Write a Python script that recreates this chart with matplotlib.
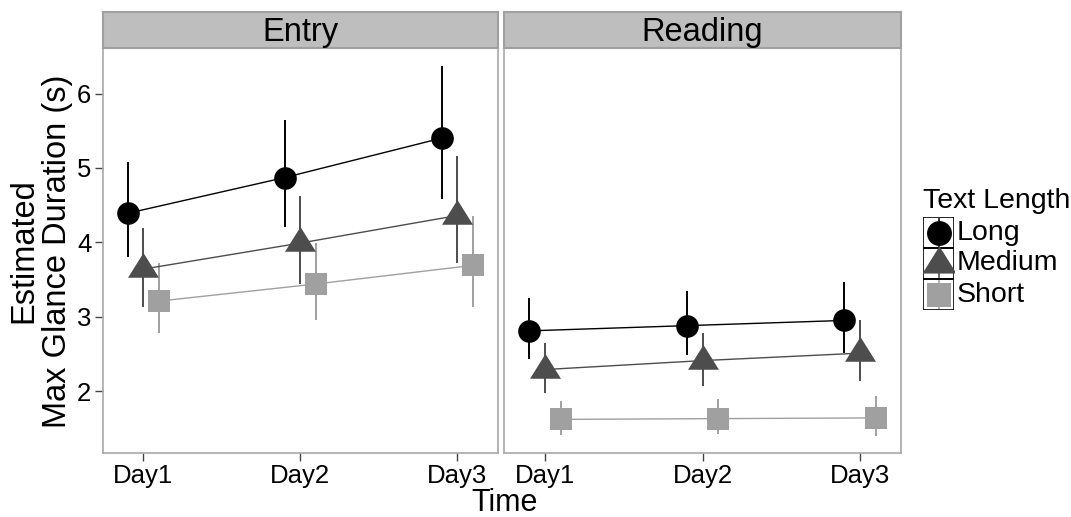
import numpy as np
import matplotlib
matplotlib.use("Agg")
from matplotlib import pyplot as plt
from matplotlib.patches import Rectangle

plt.rcParams['font.family'] = ['Liberation Sans', 'DejaVu Sans']

days = ['Day1', 'Day2', 'Day3']
panels = ['Entry', 'Reading']
lengths = ['Long', 'Medium', 'Short']

# estimated means and interval ends
entry_mean = {'Long': [4.39, 4.87, 5.40], 'Medium': [3.64, 3.99, 4.36], 'Short': [3.21, 3.44, 3.69]}
entry_low = {'Long': [3.80, 4.20, 4.58], 'Medium': [3.13, 3.44, 3.72], 'Short': [2.78, 2.96, 3.13]}
entry_high = {'Long': [5.08, 5.64, 6.37], 'Medium': [4.19, 4.62, 5.16], 'Short': [3.72, 3.99, 4.36]}

reading_mean = {'Long': [2.81, 2.88, 2.95], 'Medium': [2.29, 2.41, 2.51], 'Short': [1.62, 1.63, 1.64]}
reading_low = {'Long': [2.43, 2.49, 2.51], 'Medium': [1.98, 2.07, 2.14], 'Short': [1.41, 1.42, 1.40]}
reading_high = {'Long': [3.25, 3.34, 3.47], 'Medium': [2.64, 2.78, 2.96], 'Short': [1.87, 1.89, 1.93]}

y_ticks = [2, 3, 4, 5, 6]

colors = {'Long': '#000000', 'Medium': '#4d4d4d', 'Short': '#a0a0a0'}
dodge = {'Long': -0.1, 'Medium': 0.0, 'Short': 0.1}

# triangle with its centroid on the data point
tri = [(-1.0, -0.533), (1.0, -0.533), (0.0, 1.067), (-1.0, -0.533)]
markers = {'Long': ('o', 16.3), 'Medium': (tri, 23.8), 'Short': ('s', 16.3)}

W, H = 1071, 517
fig = plt.figure(figsize=(W / 100, H / 100), dpi=100)

def fx(px):
    return px / W

def fy(py):
    return 1 - py / H

panel_left = [102.5, 504.3]
panel_right = [498.0, 900.7]
top, bottom = 48.3, 453.3
strip_top = 11.7

data = {'Entry': (entry_mean, entry_low, entry_high),
        'Reading': (reading_mean, reading_low, reading_high)}

border = '#a8a8a8'
x = np.arange(1, len(days) + 1)

for i, name in enumerate(panels):
    ax = fig.add_axes([fx(panel_left[i]), fy(bottom), fx(panel_right[i] - panel_left[i]), (bottom - top) / H])
    mean, low, high = data[name]
    for lab in lengths:
        xs = x + dodge[lab]
        ax.vlines(xs, low[lab], high[lab], color=colors[lab], lw=1.4, zorder=2)
        ax.plot(xs, mean[lab], color=colors[lab], lw=1.0, zorder=3)
        m, ms = markers[lab]
        ax.plot(xs, mean[lab], linestyle='none', marker=m, markersize=ms,
                color=colors[lab], markeredgewidth=0, zorder=4)
    ax.set_xlim(0.74, 3.26)
    ax.set_ylim(1.164, 6.608)
    ax.set_xticks(x)
    ax.set_xticklabels(days, fontsize=18.5)
    ax.set_yticks(y_ticks)
    if i == 0:
        ax.set_yticklabels([str(t) for t in y_ticks], fontsize=18.5)
    else:
        ax.tick_params(axis='y', left=False, labelleft=False)
    ax.tick_params(direction='out', length=6, width=1, color='#444444', pad=2)
    for s in ax.spines.values():
        s.set_color(border)
        s.set_linewidth(1.2)

    # facet strip
    sax = fig.add_axes([fx(panel_left[i]), fy(top), fx(panel_right[i] - panel_left[i]), (top - strip_top) / H])
    sax.set_xticks([])
    sax.set_yticks([])
    sax.set_facecolor('#bebebe')
    for s in sax.spines.values():
        s.set_color('#a0a0a0')
        s.set_linewidth(1.5)
    sax.text(0.5, 0.42, name, ha='center', va='center', fontsize=23.5, transform=sax.transAxes)

fig.text(fx(505), fy(503), 'Time', ha='center', va='center', fontsize=22)
fig.text(fx(41), fy(251), 'Estimated\nMax Glance Duration (s)', ha='center', va='center',
         rotation=90, fontsize=23.5, linespacing=1.1)

# legend drawn by hand so each key gets its own box
lax = fig.add_axes([fx(923), fy(310), fx(954 - 923), (310 - 217) / H])
lax.set_xlim(0, 1)
lax.set_ylim(0, 3)
lax.axis('off')
for k, lab in enumerate(lengths):
    yc = 2.5 - k
    lax.add_patch(Rectangle((0, yc - 0.5), 1, 1, fill=False, edgecolor='black', lw=1.2))
    lax.plot([0.5, 0.5], [yc - 0.45, yc + 0.45], color=colors[lab], lw=1.2)
    m, ms = markers[lab]
    lax.plot([0.5], [yc], marker=m, markersize=ms * 1.1, color=colors[lab], markeredgewidth=0)
    fig.text(fx(957), fy(217 + 31 * k + 15.5), lab, ha='left', va='center', fontsize=20.5)
fig.text(fx(923), fy(201), 'Text Length', ha='left', va='center', fontsize=20.5)

fig.savefig('out.png', dpi=100)
